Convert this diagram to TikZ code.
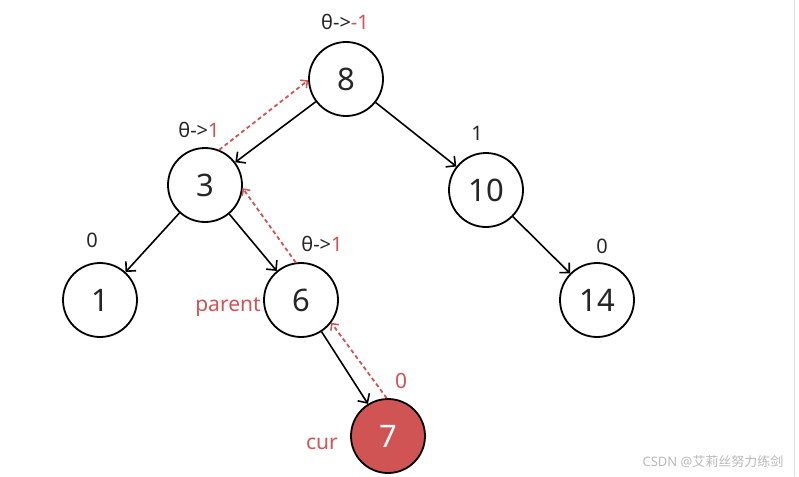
\documentclass[tikz,border=0pt]{standalone}
\usepackage{fontspec}
\setmainfont{Noto Sans}
\newfontfamily\cjk{Noto Sans CJK SC}
\usetikzlibrary{arrows.meta}
\definecolor{myred}{RGB}{208,84,84}
\definecolor{wm}{RGB}{185,185,185}
\tikzset{
  tn/.style={circle,draw=black,line width=1.8pt,minimum size=74pt,inner sep=0pt,font=\fontsize{31}{31}\selectfont,text=black!85},
  curnode/.style={tn,fill=myred,text=white},
  edge/.style={line width=1.6pt,-{Straight Barb[length=7pt,width=14pt,line width=1.6pt]}},
  back/.style={myred,line width=1.8pt,dash pattern=on 4pt off 3pt,-{Straight Barb[length=5pt,width=10pt,line width=1.5pt]}},
  lbl/.style={font=\fontsize{20}{20}\selectfont,text=black!85,inner sep=0pt},
  rlbl/.style={lbl,text=myred,font=\fontsize{21}{21}\selectfont}
}
\begin{document}
\begin{tikzpicture}[x=1pt,y=-1pt]
\useasboundingbox (0,0) rectangle (799,476);
\fill[white] (0,0) rectangle (799,476);
\draw[black!12,line width=1pt] (794,0) -- (794,476);
\node[tn] (n8) at (346,79) {8};
\node[tn] (n3) at (205,185) {3};
\node[tn] (n10) at (486,190) {10};
\node[tn] (n1) at (100,300) {1};
\node[tn] (n6) at (301,300) {6};
\node[tn] (n14) at (597,300) {14};
\node[curnode] (n7) at (388,436) {7};
% tree edges
\draw[edge] (n8) -- (n3);
\draw[edge] (n8) -- (n10);
\draw[edge] (n3) -- (n1);
\draw[edge] (n3) -- (n6);
\draw[edge] (n10) -- (n14);
\draw[edge] (n6.-57) -- (n7.122);
% back arrows
\draw[back] (n3.68) -- (n8.182);
\draw[back] (n6.98) -- (n3.-5);
\draw[back] (n7.92) -- (n6.-37);
% labels
\node[lbl] (l8) at (345,22) {θ->\textcolor{myred}{-1}};
\node[lbl] (l3) at (199,130) {θ->\textcolor{myred}{1}};
\node[lbl] (l10) at (477,133) {1};
\node[lbl] (l1) at (92,240) {0};
\node[lbl] (l6) at (322,244) {θ->\textcolor{myred}{1}};
\node[lbl] (l14) at (602,246) {0};
\node[rlbl] (lp) at (228,307) {parent};
\node[rlbl] (l7) at (401,381) {0};
\node[rlbl] (lc) at (322,444) {cur};
\node[font=\fontsize{13}{13}\selectfont,text=wm,inner sep=0pt] (wmk) at (713,462) {CSDN @\cjk 艾莉丝努力练剑};
\end{tikzpicture}
\end{document}
